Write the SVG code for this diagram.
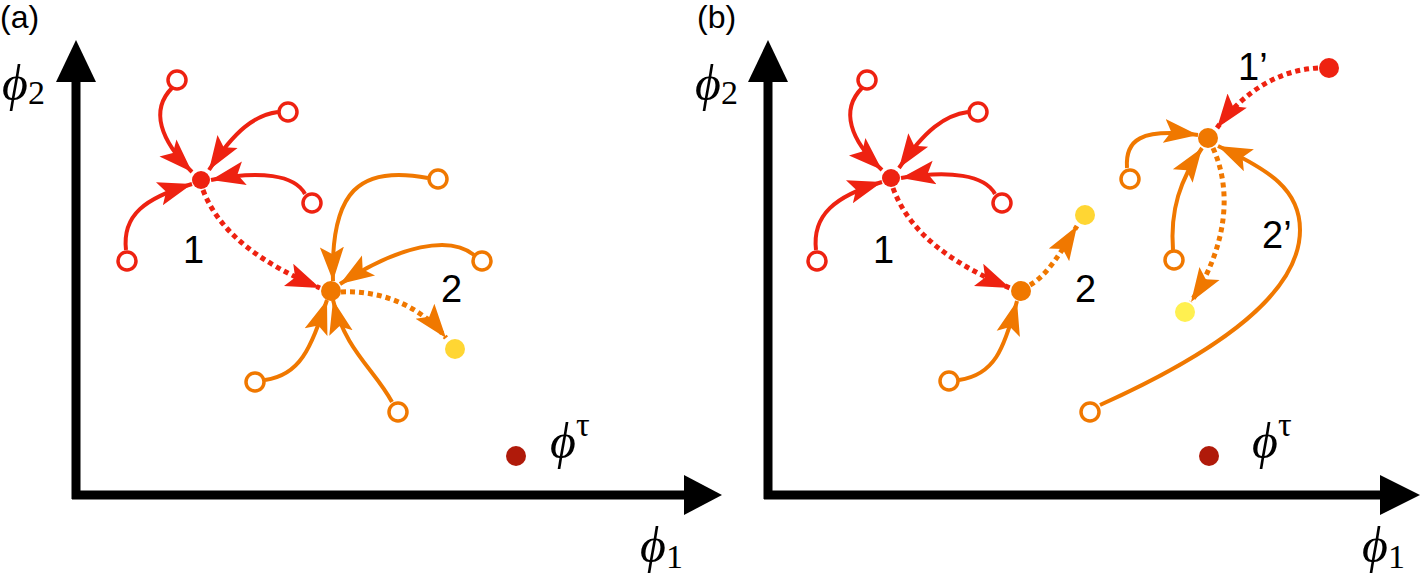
<svg xmlns="http://www.w3.org/2000/svg" width="1425" height="575" viewBox="0 0 1425 575">
<defs>
<marker id="ar" markerUnits="userSpaceOnUse" markerWidth="36" markerHeight="28" refX="34" refY="14" orient="auto" viewBox="0 0 36 28"><path d="M0,2 L34,14 L0,26 L7,14 Z" fill="#ee2211"/></marker>
<marker id="ao" markerUnits="userSpaceOnUse" markerWidth="36" markerHeight="28" refX="34" refY="14" orient="auto" viewBox="0 0 36 28"><path d="M0,2 L34,14 L0,26 L7,14 Z" fill="#f07800"/></marker>
</defs>
<style>
.r{fill:none;stroke:#ee2211;stroke-width:4}
.o{fill:none;stroke:#f07800;stroke-width:4}
.d{stroke-dasharray:5 4;stroke-width:5}
.or{fill:#fff;stroke:#ee2211;stroke-width:3.5}
.oo{fill:#fff;stroke:#f07800;stroke-width:3.5}
.ax{stroke:#000;stroke-width:9;fill:none}
text{font-family:"Liberation Sans",Arial,sans-serif;fill:#000}
.lb{font-size:38px}
.pl{font-size:32px}
.phi{font-family:"Liberation Serif","Times New Roman",serif;font-style:italic;font-size:50px}
.sub{font-family:"Liberation Serif","Times New Roman",serif;font-size:34px;font-style:normal}
</style>
<g id="axes">
<line class="ax" x1="76" y1="499" x2="76" y2="75"/><path d="M56,82 L76,40 L96,82 Z"/>
<line class="ax" x1="72" y1="495" x2="690" y2="495"/><path d="M684,475 L722,495 L684,515 Z"/>
<line class="ax" x1="768" y1="499" x2="768" y2="75"/><path d="M748,82 L768,40 L788,82 Z"/>
<line class="ax" x1="764" y1="495" x2="1385" y2="495"/><path d="M1380,475 L1420,495 L1380,515 Z"/>
</g>
<g id="labels">
<text class="pl" x="0" y="28">(a)</text>
<text class="pl" x="697" y="28">(b)</text>
<text class="phi" x="2" y="100">ϕ<tspan class="sub" dy="4">2</tspan></text>
<text class="phi" x="695" y="100">ϕ<tspan class="sub" dy="4">2</tspan></text>
<text class="phi" x="640" y="562">ϕ<tspan class="sub" dy="6">1</tspan></text>
<text class="phi" x="1362" y="562">ϕ<tspan class="sub" dy="6">1</tspan></text>
<text class="phi" x="550" y="458">ϕ<tspan class="sub" dy="-22" font-style="italic" font-size="30">τ</tspan></text>
<text class="phi" x="1252" y="458">ϕ<tspan class="sub" dy="-22" font-style="italic" font-size="30">τ</tspan></text>
<text class="lb" x="183" y="263">1</text>
<text class="lb" x="441" y="302">2</text>
<text class="lb" x="873" y="263">1</text>
<text class="lb" x="1075" y="302">2</text>
<text class="lb" x="1238" y="80">1’</text>
<text class="lb" x="1262" y="248">2’</text>
</g>
<g id="connectors">
<path class="r" marker-end="url(#ar)" d="M172,88 C150,110 160,140 192,172"/>
<path class="r" marker-end="url(#ar)" d="M278,112 C255,115 235,130 209,170"/>
<path class="r" marker-end="url(#ar)" d="M305,194 C295,175 260,170 211,180"/>
<path class="r" marker-end="url(#ar)" d="M126,250 C122,215 145,198 192,184"/>
<path class="r d" marker-end="url(#ar)" d="M203,190 C220,235 265,265 320,288"/>
<path class="o" marker-end="url(#ao)" d="M428,178 C360,165 330,190 333,281"/>
<path class="o" marker-end="url(#ao)" d="M474,255 C450,235 400,245 340,284"/>
<path class="o" marker-end="url(#ao)" d="M265,380 C300,375 310,350 327,300"/>
<path class="o" marker-end="url(#ao)" d="M392,402 C375,370 345,350 333,300"/>
<path class="o d" marker-end="url(#ao)" d="M341,292 C380,290 420,305 446,338"/>
<path class="r" marker-end="url(#ar)" d="M862,88 C840,110 850,140 882,170"/>
<path class="r" marker-end="url(#ar)" d="M968,112 C945,115 925,130 899,168"/>
<path class="r" marker-end="url(#ar)" d="M995,194 C985,175 950,170 901,178"/>
<path class="r" marker-end="url(#ar)" d="M816,250 C812,215 835,196 882,182"/>
<path class="r d" marker-end="url(#ar)" d="M893,188 C910,235 955,265 1010,288"/>
<path class="o" marker-end="url(#ao)" d="M959,380 C994,375 1004,350 1017,301"/>
<path class="o d" marker-end="url(#ao)" d="M1030,285 C1048,275 1062,250 1077,226"/>
<path class="r d" marker-end="url(#ar)" d="M1318,68 C1280,70 1245,90 1217,128"/>
<path class="o" marker-end="url(#ao)" d="M1127,168 C1125,140 1140,128 1198,135"/>
<path class="o" marker-end="url(#ao)" d="M1173,250 C1170,210 1180,180 1202,148"/>
<path class="o" marker-end="url(#ao)" d="M1100,405 C1200,360 1300,300 1300,230 C1300,190 1270,170 1218,146"/>
<path class="o d" marker-end="url(#ao)" d="M1213,148 C1232,190 1228,245 1191,302"/>
</g>
<g id="nodes-a">
<circle cx="201" cy="180" r="9" fill="#ee2211"/>
<circle class="or" cx="177" cy="80" r="9"/><circle class="or" cx="288" cy="112" r="9"/>
<circle class="or" cx="312" cy="203" r="9"/><circle class="or" cx="127" cy="261" r="9"/>
<circle cx="331" cy="291" r="10" fill="#f07800"/>
<circle class="oo" cx="438" cy="179" r="9"/><circle class="oo" cx="482" cy="261" r="9"/>
<circle class="oo" cx="255" cy="382" r="9"/><circle class="oo" cx="398" cy="412" r="9"/>
<circle cx="455" cy="349" r="10" fill="#ffd633"/>
<circle cx="516" cy="456" r="10" fill="#b01a0a"/>
</g>
<g id="nodes-b">
<circle cx="891" cy="178" r="9" fill="#ee2211"/>
<circle class="or" cx="867" cy="80" r="9"/><circle class="or" cx="978" cy="112" r="9"/>
<circle class="or" cx="1002" cy="203" r="9"/><circle class="or" cx="817" cy="261" r="9"/>
<circle cx="1021" cy="291" r="10" fill="#f07800"/>
<circle class="oo" cx="949" cy="381" r="9"/>
<circle cx="1085" cy="215" r="10" fill="#ffd633"/>
<circle cx="1208" cy="138" r="10" fill="#f07800"/>
<circle cx="1329" cy="68" r="10" fill="#ee2211"/>
<circle class="oo" cx="1130" cy="179" r="9"/><circle class="oo" cx="1174" cy="260" r="9"/>
<circle class="oo" cx="1090" cy="412" r="9"/>
<circle cx="1185" cy="312" r="10" fill="#fff050"/>
<circle cx="1209" cy="456" r="10" fill="#b01a0a"/>
</g>
</svg>
